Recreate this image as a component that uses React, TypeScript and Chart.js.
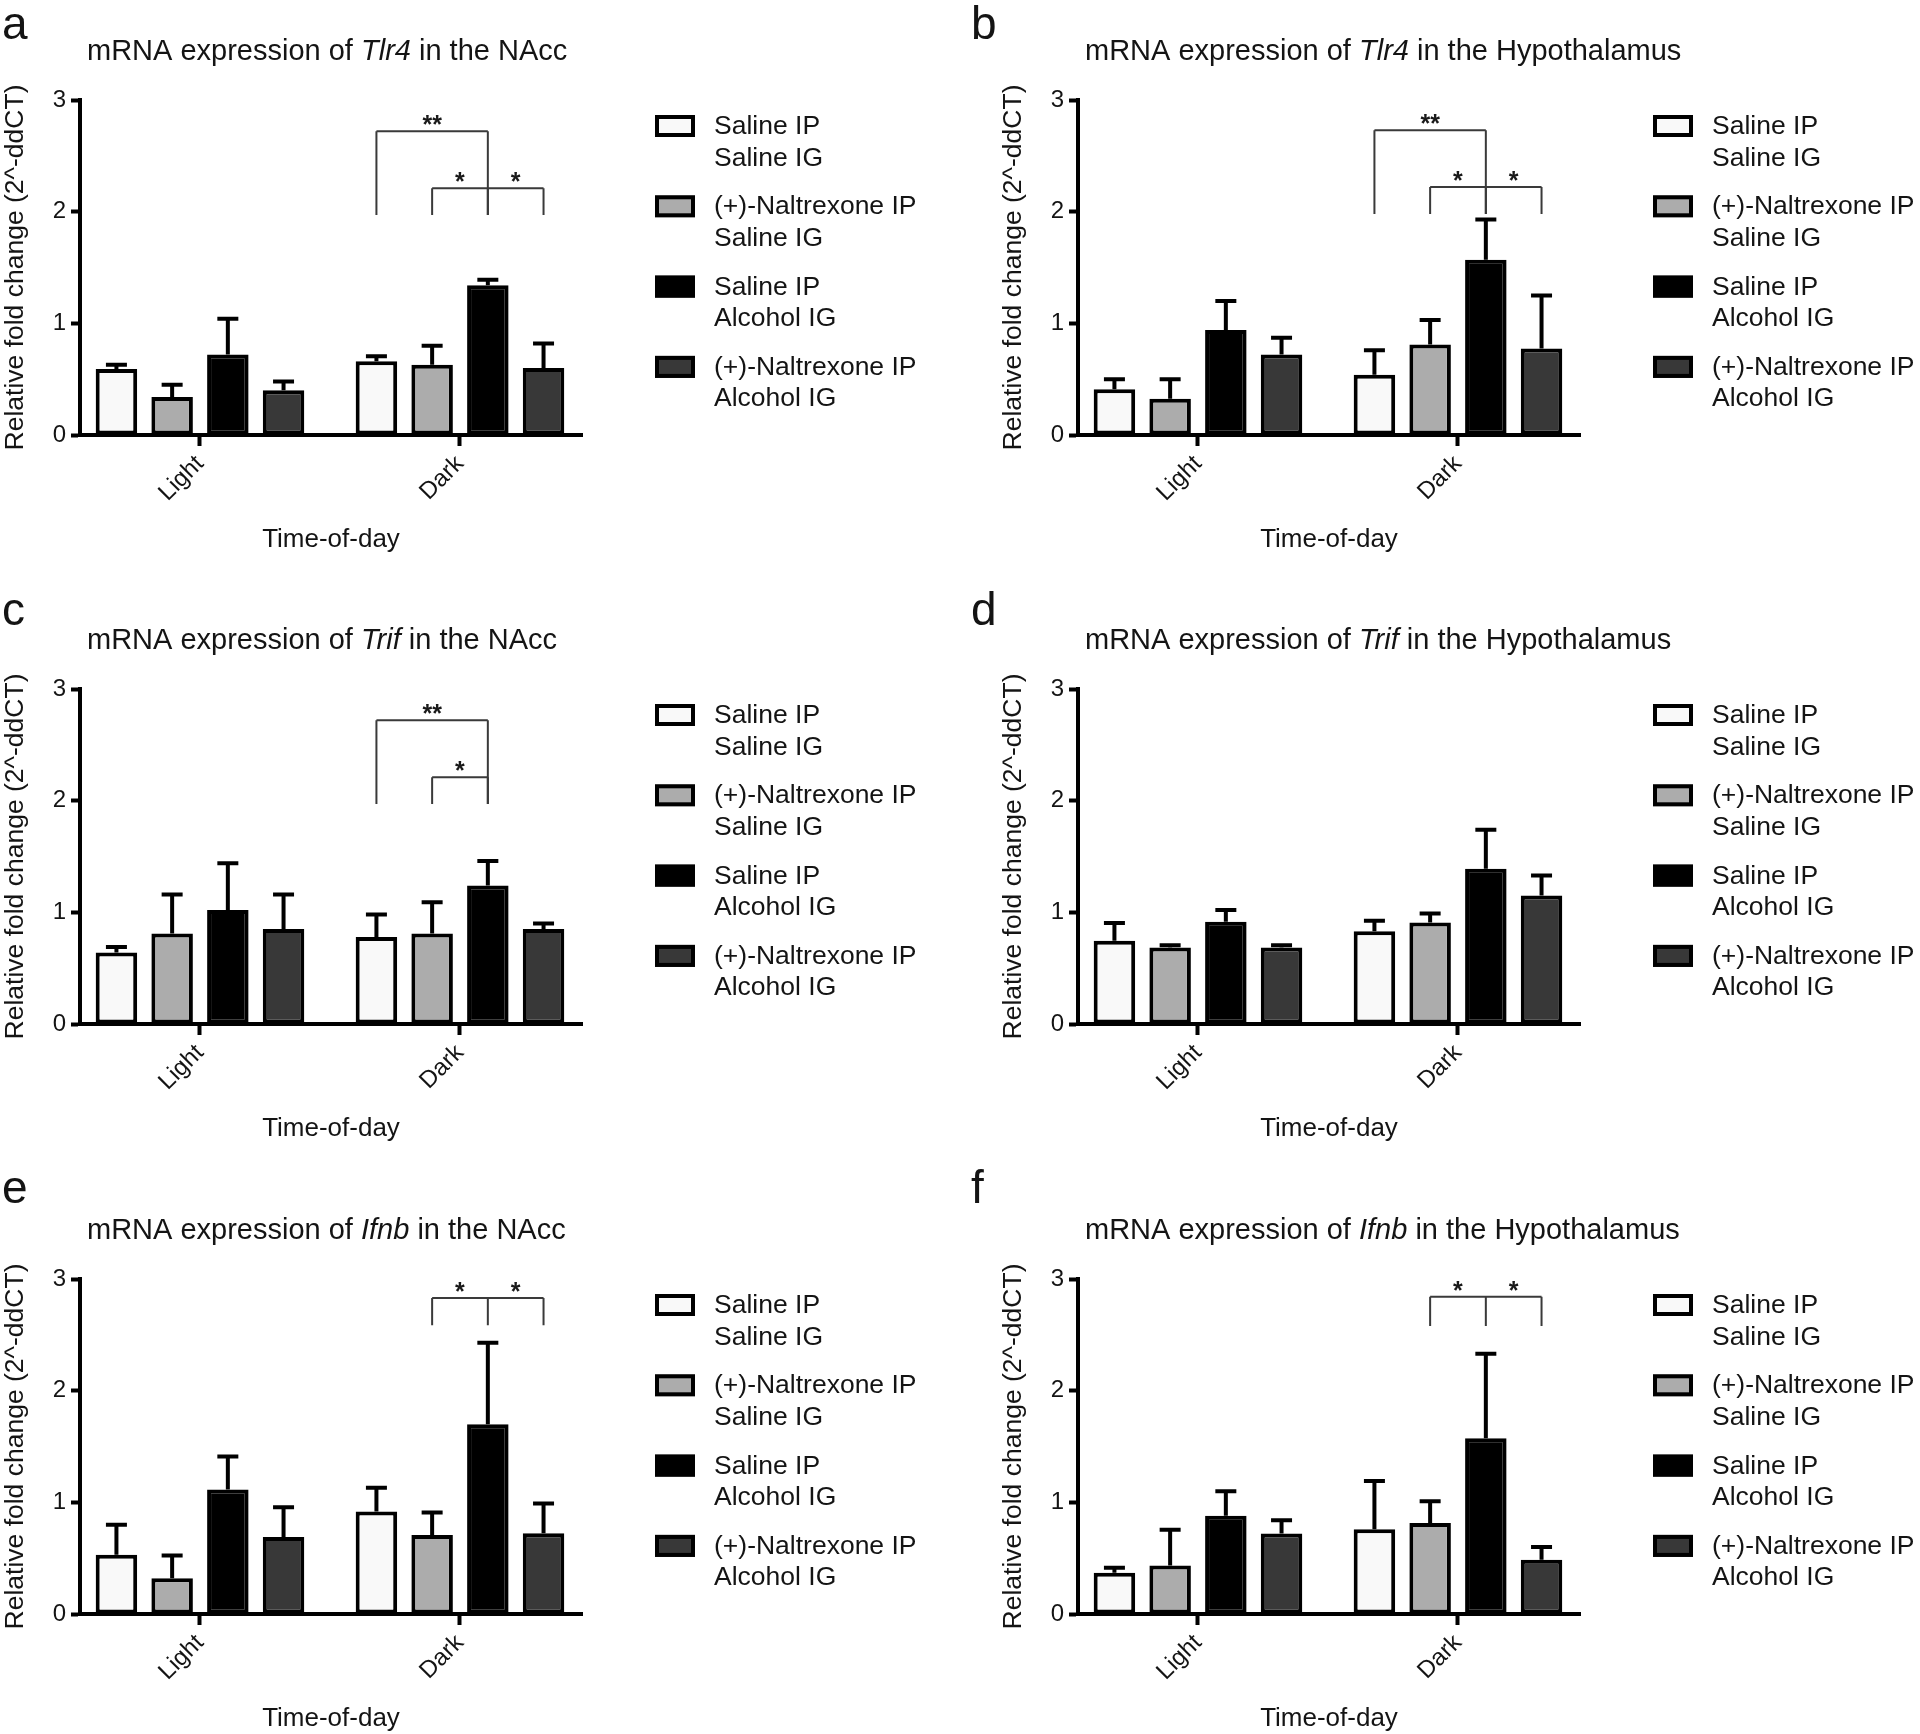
import React, { useEffect, useRef } from 'react';
import { Chart, registerables } from 'chart.js';

Chart.register(...registerables);

const FONT = '"Liberation Sans", Arial, Helvetica, sans-serif';
const TEXT = '#141414';

// ---------- data ----------
const categories = ['Light', 'Dark'];
const yTickValues = [0, 1, 2, 3];
const seriesLine1 = ['Saline IP', '(+)-Naltrexone IP', 'Saline IP', '(+)-Naltrexone IP'];
const seriesLine2 = ['Saline IG', 'Saline IG', 'Alcohol IG', 'Alcohol IG'];
const seriesFill = ['#f9f9f9', '#acacac', '#000000', '#383838'];
const xAxisTitle = 'Time-of-day';
const yAxisTitle = 'Relative fold change (2^-ddCT)';

// rows = series (Saline/Saline, Naltrexone/Saline, Saline/Alcohol, Naltrexone/Alcohol); columns = Light, Dark
const tlr4NAccMean = [[0.59, 0.66], [0.34, 0.63], [0.72, 1.34], [0.40, 0.60]];
const tlr4NAccSem = [[0.04, 0.045], [0.11, 0.17], [0.32, 0.05], [0.08, 0.22]];
const tlr4NAccBrackets = [
  { cat: 1, bars: [0, 2], y: 2.72, leg: 1.97, stars: ['**'] },
  { cat: 1, bars: [1, 2, 3], y: 2.21, leg: 1.97, stars: ['*', '*'] },
];

const tlr4HypMean = [[0.41, 0.54], [0.325, 0.81], [0.94, 1.57], [0.72, 0.775]];
const tlr4HypSem = [[0.09, 0.22], [0.175, 0.22], [0.26, 0.36], [0.15, 0.475]];
const tlr4HypBrackets = [
  { cat: 1, bars: [0, 2], y: 2.73, leg: 1.98, stars: ['**'] },
  { cat: 1, bars: [1, 2, 3], y: 2.22, leg: 1.98, stars: ['*', '*'] },
];

const trifNAccMean = [[0.64, 0.78], [0.81, 0.81], [1.02, 1.24], [0.85, 0.85]];
const trifNAccSem = [[0.05, 0.20], [0.35, 0.28], [0.42, 0.22], [0.31, 0.05]];
const trifNAccBrackets = [
  { cat: 1, bars: [0, 2], y: 2.72, leg: 1.97, stars: ['**'] },
  { cat: 1, bars: [1, 2], y: 2.21, leg: 1.97, stars: ['*'] },
];

const trifHypMean = [[0.745, 0.83], [0.685, 0.91], [0.915, 1.39], [0.685, 1.15]];
const trifHypSem = [[0.16, 0.095], [0.02, 0.08], [0.105, 0.35], [0.02, 0.18]];
const trifHypBrackets = [];

const ifnbNAccMean = [[0.53, 0.917], [0.32, 0.708], [1.116, 1.70], [0.69, 0.724]];
const ifnbNAccSem = [[0.27, 0.213], [0.205, 0.20], [0.294, 0.73], [0.267, 0.266]];
const ifnbNAccBrackets = [
  { cat: 1, bars: [1, 2, 3], y: 2.83, leg: 2.585, stars: ['*', '*'] },
];

const ifnbHypMean = [[0.37, 0.76], [0.435, 0.815], [0.88, 1.575], [0.72, 0.485]];
const ifnbHypSem = [[0.045, 0.43], [0.32, 0.195], [0.22, 0.755], [0.12, 0.115]];
const ifnbHypBrackets = [
  { cat: 1, bars: [1, 2, 3], y: 2.84, leg: 2.58, stars: ['*', '*'] },
];

const panels = [
  { letter: 'a', gene: 'Tlr4', region: 'NAcc', mean: tlr4NAccMean, sem: tlr4NAccSem, brackets: tlr4NAccBrackets, col: 0, row: 0 },
  { letter: 'b', gene: 'Tlr4', region: 'Hypothalamus', mean: tlr4HypMean, sem: tlr4HypSem, brackets: tlr4HypBrackets, col: 1, row: 0 },
  { letter: 'c', gene: 'Trif', region: 'NAcc', mean: trifNAccMean, sem: trifNAccSem, brackets: trifNAccBrackets, col: 0, row: 1 },
  { letter: 'd', gene: 'Trif', region: 'Hypothalamus', mean: trifHypMean, sem: trifHypSem, brackets: trifHypBrackets, col: 1, row: 1 },
  { letter: 'e', gene: 'Ifnb', region: 'NAcc', mean: ifnbNAccMean, sem: ifnbNAccSem, brackets: ifnbNAccBrackets, col: 0, row: 2 },
  { letter: 'f', gene: 'Ifnb', region: 'Hypothalamus', mean: ifnbHypMean, sem: ifnbHypSem, brackets: ifnbHypBrackets, col: 1, row: 2 },
];

// ---------- layout ----------
const ROW_TOP = [0, 589, 1159];
const ROW_DY = [0, 0, 20];
const ROW_H = [589, 570, 575];
const COL_LEFT = [0, 960];
const COL_OX = [0, 38];
const LETTER_X = [2, 11];
const LETTER_BASE = [39, 36, 24];
const CANVAS_W = 960;
const AREA_TOP = 100;
const AREA_BOTTOM = 435;
const AREA_RIGHT = 582;
const Y_AXIS_W = 80;
const X_AXIS_H = 120;
const X_MIN = -0.4615;
const X_MAX = 1.4693;

function makePlugin(p: any, ox: number, dy: number) {
  return {
    id: 'panelExtras',
    afterDatasetsDraw(chart: any) {
      const ctx = chart.ctx;
      const ys = chart.scales.y;
      ctx.save();
      // error bars (upper only)
      ctx.strokeStyle = '#000';
      ctx.lineWidth = 4;
      ctx.lineCap = 'butt';
      p.mean.forEach((row: number[], i: number) => {
        const meta = chart.getDatasetMeta(i);
        meta.data.forEach((bar: any, j: number) => {
          const top = ys.getPixelForValue(row[j] + p.sem[i][j]);
          ctx.beginPath();
          ctx.moveTo(bar.x, bar.y);
          ctx.lineTo(bar.x, top);
          ctx.moveTo(bar.x - 10.5, top);
          ctx.lineTo(bar.x + 10.5, top);
          ctx.stroke();
        });
      });
      // significance brackets
      ctx.strokeStyle = '#3a3a3a';
      ctx.lineWidth = 2;
      ctx.fillStyle = '#1a1a1a';
      ctx.font = `bold 25px ${FONT}`;
      ctx.textAlign = 'center';
      ctx.textBaseline = 'alphabetic';
      p.brackets.forEach((b: any) => {
        const xs = b.bars.map((k: number) => chart.getDatasetMeta(k).data[b.cat].x);
        const yl = ys.getPixelForValue(b.y);
        const yleg = ys.getPixelForValue(b.leg);
        ctx.beginPath();
        ctx.moveTo(xs[0], yl);
        ctx.lineTo(xs[xs.length - 1], yl);
        xs.forEach((x: number) => {
          ctx.moveTo(x, yl);
          ctx.lineTo(x, yleg);
        });
        ctx.stroke();
        b.stars.forEach((s: string, k: number) => {
          const mx = (xs[k] + xs[k + 1]) / 2;
          ctx.fillText(s, mx, yl + 2);
        });
      });
      ctx.restore();
    },
    afterDraw(chart: any) {
      const ctx = chart.ctx;
      ctx.save();
      ctx.fillStyle = TEXT;
      ctx.textBaseline = 'alphabetic';
      ctx.textAlign = 'left';
      // panel letter
      ctx.font = `46px ${FONT}`;
      ctx.fillText(p.letter, LETTER_X[p.col], LETTER_BASE[p.row] + dy);
      // title with italic gene
      const segs = [
        { t: 'mRNA expression of ', it: false },
        { t: p.gene, it: true },
        { t: ' in the ' + p.region, it: false },
      ];
      let tx = ox + 87;
      segs.forEach((s) => {
        ctx.font = `${s.it ? 'italic ' : ''}29px ${FONT}`;
        ctx.fillText(s.t, tx, 60 + dy);
        tx += ctx.measureText(s.t).width;
      });
      // legend
      ctx.font = `26.5px ${FONT}`;
      for (let i = 0; i < seriesLine1.length; i++) {
        const yb = 115 + i * 80.3 + dy;
        const bx = ox + 655;
        ctx.fillStyle = seriesFill[i];
        ctx.fillRect(bx, yb, 40, 22);
        ctx.strokeStyle = '#000';
        ctx.lineWidth = 4;
        ctx.strokeRect(bx + 2, yb + 2, 36, 18);
        ctx.fillStyle = TEXT;
        ctx.fillText(seriesLine1[i], ox + 714, 134 + i * 80.3 + dy);
        ctx.fillText(seriesLine2[i], ox + 714, 165.5 + i * 80.3 + dy);
      }
      ctx.restore();
    },
  };
}

function Panel({ p }: { p: any }) {
  const ref = useRef<HTMLCanvasElement | null>(null);
  const ox = COL_OX[p.col];
  const dy = ROW_DY[p.row];
  const H = ROW_H[p.row];
  useEffect(() => {
    if (!ref.current) return;
    const chart = new Chart(ref.current, {
      type: 'bar',
      data: {
        datasets: p.mean.map((row: number[], i: number) => ({
          label: seriesLine1[i] + ' ' + seriesLine2[i],
          data: row.map((v: number, j: number) => ({ x: j, y: v })),
          backgroundColor: seriesFill[i],
          borderColor: '#000',
          borderWidth: 4,
          borderSkipped: false,
          categoryPercentage: 0.857,
          barPercentage: 0.745,
        })),
      },
      options: {
        animation: false,
        responsive: false,
        maintainAspectRatio: false,
        devicePixelRatio: 1,
        layout: {
          padding: {
            left: ox,
            right: CANVAS_W - (ox + AREA_RIGHT),
            top: AREA_TOP + dy,
            bottom: H - (AREA_BOTTOM + dy) - X_AXIS_H,
          },
        },
        plugins: { legend: { display: false }, tooltip: { enabled: false }, title: { display: false } },
        scales: {
          x: {
            type: 'linear',
            min: X_MIN,
            max: X_MAX,
            offset: false,
            bounds: 'data',
            afterBuildTicks: (s: any) => {
              s.ticks = categories.map((_, i) => ({ value: i }));
            },
            afterFit: (s: any) => {
              s.height = X_AXIS_H;
            },
            ticks: {
              callback: (v: any) => categories[v as number],
              minRotation: 45,
              maxRotation: 45,
              autoSkip: false,
              padding: 4,
              color: TEXT,
              font: { family: FONT, size: 24 },
            },
            grid: {
              drawOnChartArea: false,
              drawTicks: true,
              tickLength: 11,
              tickWidth: 4,
              tickColor: '#000',
              offset: false,
            },
            border: { display: true, color: '#000', width: 4 },
            title: {
              display: true,
              text: xAxisTitle,
              color: TEXT,
              font: { family: FONT, size: 26 },
              padding: 0,
            },
          },
          y: {
            min: yTickValues[0],
            max: yTickValues[yTickValues.length - 1],
            afterBuildTicks: (s: any) => {
              s.ticks = yTickValues.map((v) => ({ value: v }));
            },
            afterFit: (s: any) => {
              s.width = Y_AXIS_W;
            },
            ticks: {
              padding: 5,
              color: TEXT,
              font: { family: FONT, size: 24 },
            },
            grid: {
              drawOnChartArea: false,
              drawTicks: true,
              tickLength: 9,
              tickWidth: 4,
              tickColor: '#000',
            },
            border: { display: true, color: '#000', width: 4 },
            title: {
              display: true,
              text: yAxisTitle,
              color: TEXT,
              font: { family: FONT, size: 26.5 },
              padding: 0,
            },
          },
        },
      } as any,
      plugins: [makePlugin(p, ox, dy)],
    });
    return () => chart.destroy();
  }, [p]);
  return (
    <canvas
      ref={ref}
      width={CANVAS_W}
      height={H}
      style={{ position: 'absolute', left: COL_LEFT[p.col], top: ROW_TOP[p.row], width: CANVAS_W, height: H }}
    />
  );
}

export default function App() {
  return (
    <div style={{ position: 'absolute', left: 0, top: 0, width: 1920, height: 1734, background: '#fff', overflow: 'hidden' }}>
      {panels.map((p) => (
        <Panel key={p.letter} p={p} />
      ))}
    </div>
  );
}
